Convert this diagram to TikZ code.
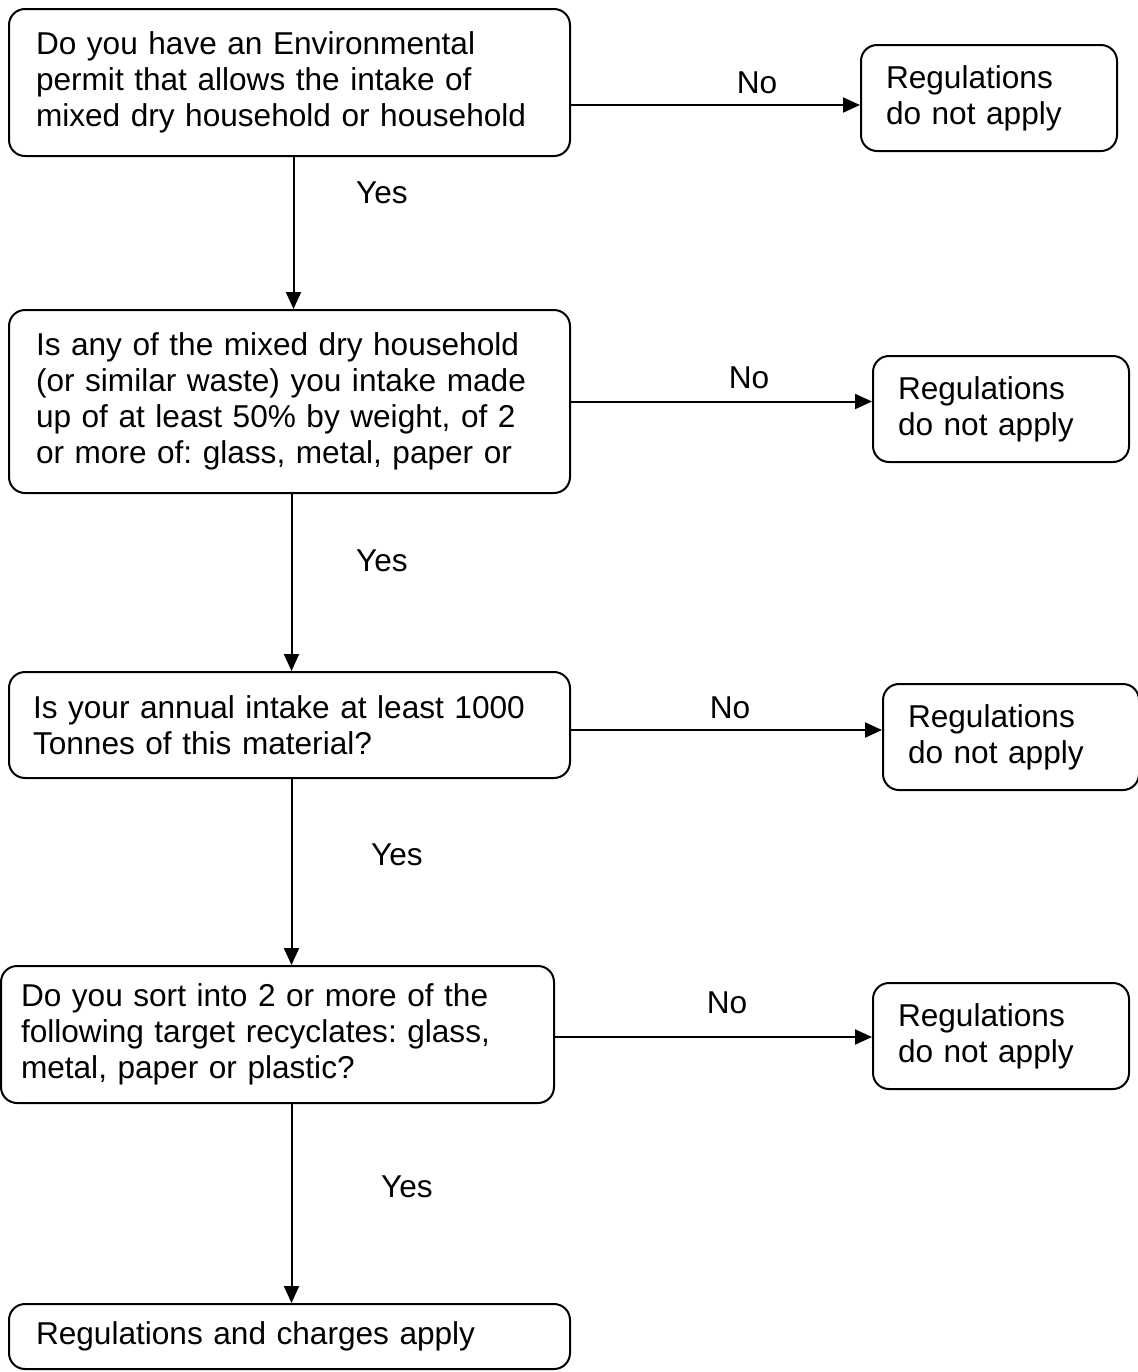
\documentclass[tikz,border=0pt]{standalone}
\usepackage{fontspec}
\setmainfont{Liberation Sans}
\usetikzlibrary{arrows.meta}
\frenchspacing

\tikzset{
  qbox/.style={draw, rounded corners=8pt, line width=1pt, align=left,
    anchor=north west, inner ysep=0pt, font=\fontsize{15.8}{18}\selectfont},
  rbox/.style={qbox, text width=103pt, inner xsep=12.5pt, minimum height=53pt},
  lbl/.style={font=\fontsize{15.8}{18}\selectfont},
  arr/.style={line width=1pt, -{Triangle[length=8.5pt,width=7.5pt]}},
}

\begin{document}
\begin{tikzpicture}[x=0.5pt,y=-0.5pt]
    \useasboundingbox (0,0) rectangle (1138,1372);
    % questions on the left
    \node[qbox, text width=253.5pt, inner xsep=13.5pt, minimum height=73.5pt] (q1) at (8,8)
      {Do you have an Environmental\\permit that allows the intake of\\mixed dry household or household};
    \node[qbox, text width=253.5pt, inner xsep=13.5pt, minimum height=91.5pt] (q2) at (8,309)
      {Is any of the mixed dry household\\(or similar waste) you intake made\\up of at least 50\% by weight, of 2\\or more of: glass, metal, paper or};
    \node[qbox, text width=256.5pt, inner xsep=12pt, minimum height=53pt] (q3) at (8,671)
      {Is your annual intake at least 1000\\Tonnes of this material?};
    \node[qbox, text width=256.5pt, inner xsep=10pt, minimum height=68.5pt] (q4) at (0,965)
      {Do you sort into 2 or more of the\\following target recyclates: glass,\\metal, paper or plastic?};
    \node[qbox, text width=253.5pt, inner xsep=13.5pt, minimum height=32.5pt] (fin) at (8,1303)
      {Regulations and charges apply};

    % answers on the right
    \node[rbox] (r1) at (860,44) {Regulations\\do not apply};
    \node[rbox] (r2) at (872,355) {Regulations\\do not apply};
    \node[rbox] (r3) at (882,683) {Regulations\\do not apply};
    \node[rbox] (r4) at (872,982) {Regulations\\do not apply};

    % yes
    \draw[arr] ([xshift=2pt]q1.south) -- ([xshift=2pt]q1.south |- q2.north);
    \draw[arr] ([xshift=1pt]q2.south) -- ([xshift=1pt]q2.south |- q3.north);
    \draw[arr] ([xshift=1pt]q3.south) -- ([xshift=1pt]q3.south |- q4.north);
    \draw[arr] ([xshift=1pt]q3.south |- q4.south) -- ([xshift=1pt]q3.south |- fin.north);
    \node[lbl] (y1) at (382,193) {Yes};
    \node[lbl] (y2) at (382,561) {Yes};
    \node[lbl] (y3) at (397,855) {Yes};
    \node[lbl] (y4) at (407,1187) {Yes};

    % no
    \draw[arr] ([yshift=-11.25pt]q1.east) -- ([yshift=-11.25pt]q1.east -| r1.west);
    \draw[arr] (q2.east) -- (q2.east -| r2.west);
    \draw[arr] ([yshift=-2.5pt]q3.east) -- ([yshift=-2.5pt]q3.east -| r3.west);
    \draw[arr] ([yshift=-1.25pt]q4.east) -- ([yshift=-1.25pt]q4.east -| r4.west);
    \node[lbl] (n1) at (757,83) {No};
    \node[lbl] (n2) at (749,378) {No};
    \node[lbl] (n3) at (730,708) {No};
    \node[lbl] (n4) at (727,1003) {No};
\end{tikzpicture}
\end{document}
